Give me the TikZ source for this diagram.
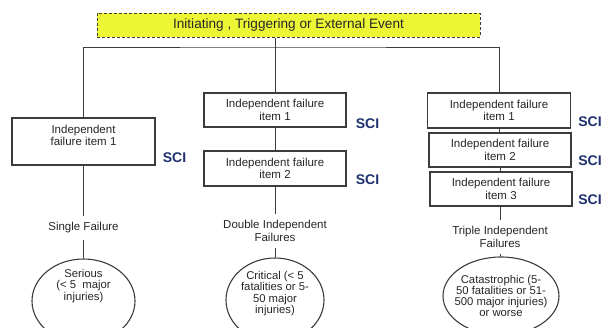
\documentclass[tikz,border=0pt]{standalone}
\usepackage{fontspec}
\setmainfont{Liberation Sans}
\usetikzlibrary{shapes.geometric,calc}
\definecolor{evfill}{RGB}{236,246,52}
\definecolor{sciblue}{RGB}{30,48,112}
\definecolor{linec}{RGB}{60,60,60}
\tikzset{
  boxtxt/.style={font=\fontsize{11.5}{12.5}\selectfont, text=black!85},
  itembox/.style={draw=linec, line width=1.1pt, rectangle, align=center, inner sep=0pt, boxtxt},
  evbox/.style={draw=black!70!olive, dashed, dash pattern=on 3pt off 2pt, line width=1pt, fill=evfill, inner sep=0pt,
     minimum width=383pt, minimum height=24pt, font=\fontsize{13.6}{15}\selectfont, text=black!85},
  scilbl/.style={font=\bfseries\fontsize{14}{16}\selectfont, text=sciblue, inner sep=0pt},
  faillbl/.style={align=center, inner xsep=2pt, inner ysep=6.5pt, font=\fontsize{11.5}{12.5}\selectfont, text=black!85},
  outcome/.style={draw=linec, line width=1.1pt, ellipse, inner sep=0pt},
  outtxt/.style={align=center, font=\fontsize{11.3}{11.3}\selectfont, text=black!85},
  conn/.style={draw=linec, line width=0.9pt}
}
\begin{document}
\begin{tikzpicture}[x=1pt,y=-1pt]
\useasboundingbox (0,0) rectangle (603,327);
\clip (0,0) rectangle (603,327);
% top event
\node[evbox] (top) at (288.5,25) {Initiating , Triggering or External Event};
\coordinate (bus) at (275,47);
% left column
\node[itembox, minimum width=143pt, minimum height=47pt] (l1) at (83.5,141.5) {Independent\\failure item 1\\ \mbox{}};
\node[scilbl] (lsci) at (174.5,158) {SCI};
\node[faillbl] (lf) at (83.5,228) {Single Failure};
\node[outcome, minimum width=103pt, minimum height=84pt,
      label={[outtxt, yshift=15pt]center:Serious\\(< 5~ major\\injuries)}] (le) at (83.5,301) {};
% middle column
\node[itembox, minimum width=142pt, minimum height=34pt] (m1) at (275,110) {Independent failure\\item 1};
\node[scilbl] (msci1) at (367.5,124) {SCI};
\node[itembox, minimum width=142pt, minimum height=35pt] (m2) at (275,168.5) {Independent failure\\item 2};
\node[scilbl] (msci2) at (367.5,180) {SCI};
\node[faillbl] (mf) at (275,231) {Double Independent\\Failures};
\node[outcome, minimum width=98pt, minimum height=84pt,
      label={[outtxt, yshift=6.5pt]center:Critical (< 5\\fatalities or 5-\\50 major\\injuries)}] (me) at (275,300) {};
% right column
\node[itembox, minimum width=143pt, minimum height=35pt] (r1) at (499,110.5) {Independent failure\\item 1};
\node[scilbl] (rsci1) at (590,121.5) {SCI};
\node[itembox, minimum width=142pt, minimum height=34pt] (r2) at (500,150) {Independent failure\\item 2};
\node[scilbl] (rsci2) at (590,161) {SCI};
\node[itembox, minimum width=142pt, minimum height=34pt] (r3) at (501,189) {Independent failure\\item 3};
\node[scilbl] (rsci3) at (590,199.5) {SCI};
\node[faillbl] (rf) at (500,237) {Triple Independent\\Failures};
\node[outcome, minimum width=116pt, minimum height=78pt,
      label={[outtxt]center:Catastrophic (5-\\50 fatalities or 51-\\500 major injuries)\\or worse}] (re) at (501,296) {};
% connectors
\draw[conn] (top.south -| bus) -- (m1.north);
\draw[conn] (l1.north) |- (bus) -| (r1.north);
\draw[conn] (l1.south) -- (lf.north);
\draw[conn] (lf.south) -- (le.north);
\draw[conn] (m1.south) -- (m2.north);
\draw[conn] (m2.south) -- (mf.north);
\draw[conn] (mf.south) -- (me.north);
\draw[conn] (r1.south) -- (r1.south |- r2.north);
\draw[conn] (r2.south) -- (r2.south |- r3.north);
\draw[conn] (r3.south -| rf.north) -- (rf.north);
\draw[conn] (rf.south) -- (rf.south |- re.north);
\end{tikzpicture}
\end{document}
